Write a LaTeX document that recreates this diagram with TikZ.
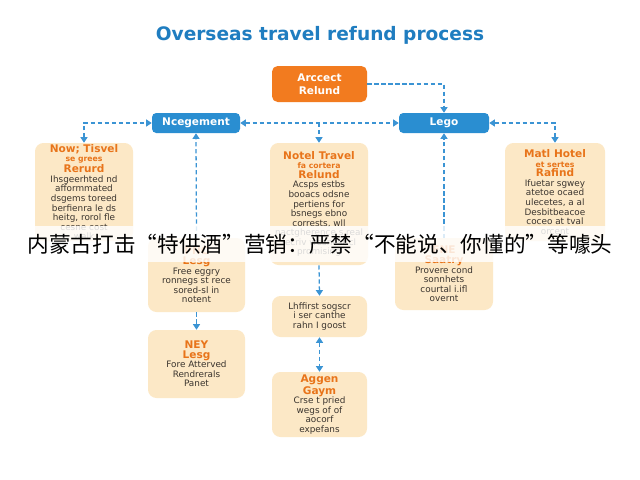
\documentclass[tikz,border=0pt]{standalone}
\usepackage{fontspec}
\setmainfont{DejaVu Sans}
\newfontfamily\cjk{Noto Sans CJK SC}
\usetikzlibrary{arrows.meta}
\definecolor{titleblue}{HTML}{1F7DC0}
\definecolor{boxblue}{HTML}{2A8ED1}
\definecolor{arrowblue}{HTML}{3B94D4}
\definecolor{accorange}{HTML}{F27B1F}
\definecolor{cream}{HTML}{FCE8C6}
\definecolor{headorange}{HTML}{E8741A}
\definecolor{bodygray}{HTML}{3A342E}
% 方框标题
\newcommand{\boxhead}[1]{{\fontsize{7.5}{8}\selectfont\bfseries\color{headorange}#1}}
\newcommand{\boxsub}[1]{{\fontsize{5.5}{6}\selectfont\bfseries\color{headorange}#1}}

\begin{document}
\begin{tikzpicture}[
                x=0.025cm, y=-0.025cm, % 以像素为单位
                bluebox/.style={fill=boxblue, rounded corners=3pt, text=white,
                    font=\fontsize{7.5}{9}\selectfont\bfseries, inner sep=0pt},
                creambox/.style={fill=cream, rounded corners=6pt, align=center,
                    inner sep=0pt, text=bodygray, font=\fontsize{6.3}{6.8}\selectfont},
                link/.style={arrowblue, dash pattern=on 3pt off 2pt, line width=0.9pt},
                tip/.style={-{Triangle[length=4pt,width=5pt]}},
                tips/.style={{Triangle[length=4pt,width=5pt]}-{Triangle[length=4pt,width=5pt]}},
            ]
            % 画布
            \fill[white] (0,0) rectangle (640,480);
            \useasboundingbox (0,0) rectangle (640,480);
            % 标题
            \node (title) at (320,35) [text=titleblue, font=\fontsize{13.2}{15}\selectfont\bfseries]
                {Overseas travel refund process};
            % 第一层
            \node (accept) at (319.5,84) [bluebox, fill=accorange, rounded corners=4pt, align=center,
                minimum width=95*0.025cm, minimum height=36*0.025cm] {Arccect\\Relund};
            \node (neg) at (196,123) [bluebox, minimum width=88*0.025cm, minimum height=20*0.025cm] {Ncegement};
            \node (lego) at (444,123) [bluebox, minimum width=90*0.025cm, minimum height=20*0.025cm] {Lego};
            % 第二层
            \node (travelA) at (84,192) [creambox, minimum width=98*0.025cm, minimum height=98*0.025cm]
                {\boxhead{Now; Tisvel}\\\boxsub{se grees}\\\boxhead{Rerurd}\\
                 Ihsgeerhted nd\\afformmated\\dsgems toreed\\berfienra le ds\\heitg, rorol fle\\cesne cost\\walk};
            \node (travelB) at (319,204) [creambox, minimum width=98*0.025cm, minimum height=122*0.025cm]
                {\boxhead{Notel Travel}\\\boxsub{fa cortera}\\\boxhead{Relund}\\
                 Acsps estbs\\booacs odsne\\pertiens for\\bsnegs ebno\\corrests, wll\\nactgherence s real\\fecriv wesnest cl\\promising};
            \node (hotel) at (555,192) [creambox, minimum width=100*0.025cm, minimum height=98*0.025cm]
                {\boxhead{Matl Hotel}\\\boxsub{et sertes}\\\boxhead{Rafind}\\
                 Ifuetar sgwey\\atetoe ocaed\\ulecetes, a al\\Desbitbeacoe\\coceo at tval\\orcent};
            % 第三层
            \node (pnc) at (196.5,275) [creambox, minimum width=97*0.025cm, minimum height=74*0.025cm]
                {\boxhead{PNC}\\\boxhead{Lesg}\\Free eggry\\ronnegs st rece\\sored-sl in\\notent};
            \node (fne) at (444,274) [creambox, minimum width=98*0.025cm, minimum height=72*0.025cm]
                {\boxhead{FNE}\\\boxhead{Saatry}\\Provere cond\\sonnhets\\courtal i.ifl\\overnt};
            \node (lhf) at (319.5,316.5) [creambox, minimum width=95*0.025cm, minimum height=41*0.025cm]
                {Lhffirst sogscr\\i ser canthe\\rahn I goost};
            % 第四层
            \node (ney) at (196.5,364) [creambox, minimum width=97*0.025cm, minimum height=68*0.025cm]
                {\boxhead{NEY}\\\boxhead{Lesg}\\Fore Atterved\\Rendrerals\\Panet};
            \node (aggen) at (319.5,404.5) [creambox, minimum width=95*0.025cm, minimum height=65*0.025cm]
                {\boxhead{Aggen}\\\boxhead{Gaym}\\Crse t pried\\wegs of of\\aocorf\\expefans};
            % 连线
            \draw[link, tip] (accept.east) -| (lego.north);
            \draw[link, tips] (neg.east) -- (lego.west);
            \draw[link, tip] (travelB.north |- neg.east) -- (travelB.north);
            \draw[link, tips] (travelA.north) |- (neg.west);
            \draw[link, tips] (lego.east) -| (hotel.north);
            \draw[link, tip] (pnc.north) -- (neg.south);
            \draw[link, tip] (fne.north) -- (lego.south);
            \draw[link, tip] (pnc.south) -- (ney.north);
            \draw[link, tip] (travelB.south) -- (lhf.north);
            \draw[link, tips] (lhf.south) -- (aggen.north);
            % 新闻字幕
            \node (caption) at (320,244) [fill=white, fill opacity=0.82, text opacity=1,
                minimum width=16cm, minimum height=36*0.025cm, inner sep=0pt]
                {\cjk\fontsize{15.4}{18}\selectfont 内蒙古打击“特供酒”营销：严禁“不能说、你懂的”等噱头};
            \end{tikzpicture}
\end{document}
